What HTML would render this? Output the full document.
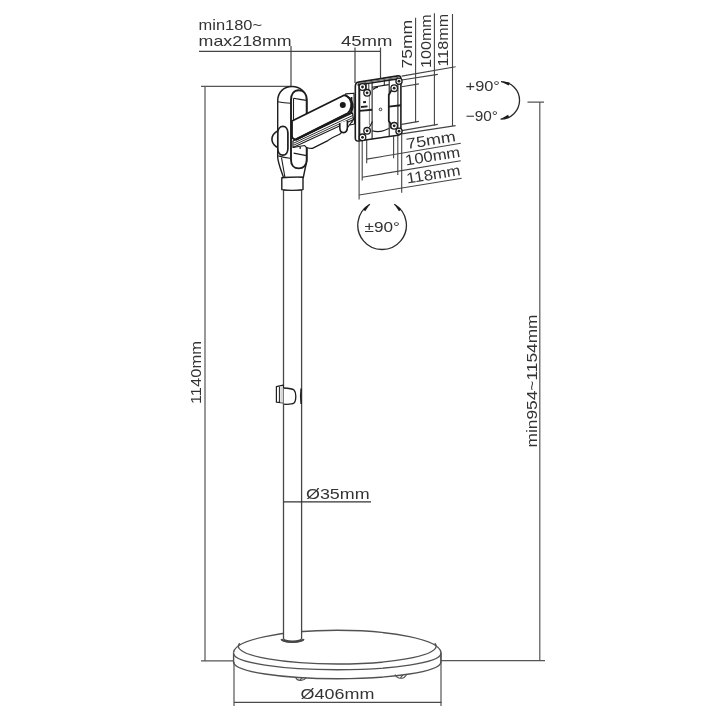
<!DOCTYPE html>
<html><head><meta charset="utf-8">
<style>
html,body{margin:0;padding:0;background:#fff;}
svg{display:block;will-change:transform;}
text{font-family:"Liberation Sans",sans-serif;fill:#333;}
</style></head>
<body>
<svg width="720" height="720" viewBox="0 0 720 720">
<!-- dimension lines -->
<g stroke="#555" stroke-width="1.2" fill="none">
  <path d="M205 86.3V660.8M201 86.3H291.4M201 660.8H233.5"/>
  <path d="M539.8 102.1V660.7M527.5 102.1H544M441 660.7H545"/>
  <path d="M234 662V706M441 652V706"/><path d="M234 702.4H441.5" stroke="#4a4a4a"/>
</g>
<g stroke="#444" stroke-width="1.2" fill="none">
  <path d="M199 51.3H380.5M291 46V86M355 47.5V83M380.5 47.5V78"/>
</g>
<!-- pole -->

<!-- base -->
<g stroke="#525252" stroke-width="1.4" fill="none">
  <path d="M233.6 652.2 A103.7 22.6 0 0 1 440.9 652.2"/>
  <path d="M239.8 643.2 Q238.3 644.8 238.3 646.5 A99 18.1 0 0 0 436.2 646.5 Q436.2 644.8 434.7 643.2"/>
  <path d="M233.6 653.9 A103.7 16.4 0 0 0 440.9 653.9"/>
  <path d="M233.6 662.6 A103.7 16.6 0 0 0 440.9 662.6"/>
  <path d="M233.6 652.2V663M440.9 652.2V663"/>
  <path d="M281.3 639.2 Q283 641.6 292.5 641.8 Q302 641.6 303.8 639.2" stroke-width="1.8"/>
  <path d="M295.5 677.2 Q297 680.6 300.5 680.4 Q304 680.6 306.2 677.6 M300.2 680 Q301.5 677.8 302.5 677.6" stroke-width="1.1"/>
  <path d="M395 674.6 Q397 678.4 400.5 678.3 Q404.5 678.4 406.7 674.4 M400.5 678 Q401.5 675.8 403 675.2" stroke-width="1.1"/>
</g>
<g stroke="#474747" stroke-width="1.3">
  <path d="M283.5 190V638.5 Q284 641 292.5 641.2 Q301 641 301.6 638.5 V190Z" fill="#fff"/>
  <path d="M281.3 639.2 Q283 641.8 292.5 642 Q302 641.8 303.8 639.2" fill="none" stroke-width="1.8"/>
</g>
<path d="M283.6 501.9H371" stroke="#333" stroke-width="1.2"/>
<!-- clip -->
<g stroke="#1e1e1e" stroke-width="1.2" fill="#fff" stroke-linejoin="round">
  <path d="M276.4 386.6 L283.3 385.2 V402.8 L276.4 402.2Z"/>
  <path d="M279.4 386.5 V402.4" fill="none" stroke-width="1"/>
  <path d="M280.3 386.3 H283 V402.6 H280.3Z" fill="#d8d8d8" stroke="none"/>
  <path d="M283.6 388 Q292 388.4 294 390 Q295.8 392 295.8 396 Q295.8 401.5 294 403 Q292 404.6 283.6 404.2" stroke-width="1.3"/>
  <path d="M301.2 388.5 Q300.2 396 301.2 404" fill="none" stroke-width="1.6"/>
</g>
<!-- VESA dims top (vertical) -->
<g stroke="#444" stroke-width="1.1" fill="none">
  <path d="M415.6 17.8V122.2M434.4 13.3V125.6M452.5 13.9V126.1"/>
  <path d="M401.7 76.1L455.6 66.7M401.7 80L437.8 74.4M401.7 86.7L418.9 83.9"/>
  <path d="M401.7 124.4L418.9 121.4M401.7 130.6L437.8 124.4M401.7 133.9L455.6 125.6"/>
  <path d="M359.1 140V199.4M362.2 141V180.6M366.7 140V163.3M393.6 130V158.3M397.8 130V175M401.7 130V192.8"/>
  <path d="M366.7 159.1L460.8 143.3M362.2 177.2L460.8 160.8M359.1 195L461.7 178.3"/>
</g>
<text transform="translate(412.2 68.4) rotate(-90)" font-size="15" textLength="48.6" lengthAdjust="spacingAndGlyphs">75mm</text>
<text transform="translate(431.3 68) rotate(-90)" font-size="15" textLength="53.8" lengthAdjust="spacingAndGlyphs">100mm</text>
<text transform="translate(448.2 66.5) rotate(-90)" font-size="15" textLength="52.6" lengthAdjust="spacingAndGlyphs">118mm</text>
<text transform="translate(407 149) rotate(-9)" font-size="15" textLength="50" lengthAdjust="spacingAndGlyphs">75mm</text>
<text transform="translate(406 165.4) rotate(-9)" font-size="15" textLength="55.5" lengthAdjust="spacingAndGlyphs">100mm</text>
<text transform="translate(407.3 183.6) rotate(-9)" font-size="15" textLength="54.5" lengthAdjust="spacingAndGlyphs">118mm</text>
<!-- rotation arrows -->
<g stroke="#2a2a2a" stroke-width="1.3" fill="none">
  <path d="M501 81.6 A18.4 18.4 0 0 1 500.6 119.1"/>
  <path d="M369.9 204.2 A24.3 24.3 0 1 0 394.3 204.2"/>
</g>
<g fill="#1a1a1a">
  <path d="M500.6 81.5L509.6 82.6L508.7 85.5Z"/>
  <path d="M500.3 119.2L508.1 114.8L509.2 117.6Z"/>
  <path d="M370.2 203.8L365.2 211.2L362.9 209.2Z"/>
  <path d="M394 203.8L399 211.2L401.3 209.2Z"/>
</g>
<!-- head -->
<g stroke="#1e1e1e" stroke-width="1.4" fill="#fff" stroke-linejoin="round">
  <path d="M277.7 157 V101 C277.7 92 284 86.5 292 86.5 C300 86.5 306.7 92 306.7 101 V161 L303.3 177.5 H283.5 C281 170 278 163 277.7 157Z"/>
  <path d="M281.8 177.8 Q292.5 176.8 303 177.2 V189.6 Q292.5 191.2 281.8 189.6Z"/>
  <path d="M291 160 V100 C291 94 294 90.3 298.8 90.3 C303.5 90.3 306.7 94 306.7 100 V160 C306.7 165 303.5 168.4 298.8 168.4 C294 168.4 291 165 291 160Z" stroke-width="1.9"/>
  <path d="M277.8 101.8 Q284 103 291 103.2M293.5 98.3 Q300 99.5 306.5 100.4M293.5 98.3V121M278.3 155.9 Q284 157.5 290.1 158.3M293.6 153.1 Q300 154.5 306.5 155.6M281.5 157.6 L284.9 177" fill="none" stroke-width="1.1"/>
  <path d="M285 129.2 A13 10 0 0 0 285 149.3Z" stroke-width="1.6"/>
  <path d="M277.8 133 C277.8 129 280 126.4 282.9 126.4 C285.8 126.4 287.9 129 287.9 133 V148.6 C287.9 152.6 285.8 155.2 282.9 155.2 C280 155.2 277.8 152.6 277.8 148.6Z" stroke-width="1.7"/>
</g>
<!-- arm -->
<g stroke="#1a1a1a" stroke-width="1.3" fill="#fff" stroke-linejoin="round">
  <path d="M345.6 93.9 L354 93.3 L354.5 124 L350 125Z" stroke-width="1.1"/>
  <path d="M351.5 97 V123" fill="none" stroke-width="1.8"/>
  <path d="M293 141 L352.5 113 L353.5 119.5 L348.3 126.5 L339.6 134.3 Q333 137 327.9 140.6 L312.4 148.4 Q307 148.8 304.6 145.5 L293 147.5Z" stroke-width="1.2"/>
  <path d="M294 143 L352.5 115.6M294 145 L353 117.6" fill="none" stroke-width="0.9"/>
  <path d="M293 147.5 L353.5 119.5" fill="none" stroke-width="1.1"/>
  <path d="M339.8 123 V127.5 Q339.8 132.6 343.5 132.6 Q347.4 132.6 347.4 127 V120.5" fill="#fff" stroke-width="1.6"/>
  <circle cx="300.2" cy="147.9" r="0.9" fill="#1a1a1a" stroke="none"/>
  <path d="M292 121 L344 95.2 C349 96 352 101 351.1 106.8 Q350.5 111 347.2 113.9 L295.8 139.6 Q292 139 292 136Z" stroke-width="1.8"/>
  <path d="M346.3 95.8 C351 98 353.5 103 352.8 107.5 Q352 112 348.5 114.5" fill="none" stroke-width="1.6"/>
  <path d="M295.8 139.6 L347.2 113.9" stroke-width="2.4" fill="none"/>
  <circle cx="342.8" cy="105" r="3" fill="#1a1a1a" stroke="none"/>
</g>
<!-- plate -->
<g stroke="#1e1e1e" stroke-width="1.3" fill="#fff" stroke-linejoin="round">
  <path d="M355.3 86.5 Q355.3 82.6 358.5 82.1 L398 75.9 Q400.9 75.5 400.9 78.5 V132.5 Q400.9 134.8 398 135.2 L358.5 141 Q355.3 141.5 355.3 138Z" stroke-width="1.6"/>
  <path d="M359.3 84.5 V140.3" fill="none" stroke-width="2"/>
  <path d="M357.5 85 L399.5 78.6" fill="none" stroke-width="1.6"/><path d="M358 83.6 L398 77.4" fill="none" stroke="#666" stroke-width="1"/>
  <path d="M372.1 83 V139M397.9 78.5V134.8M389.2 79V95M389.2 121V136.5" fill="none" stroke-width="1.1"/>
  <path d="M369.4 95 V125" fill="none" stroke="#777" stroke-width="0.9"/>
  <path d="M391.2 90.5 L388.8 95 V121 L391.2 124.5" fill="none" stroke-width="1.8"/>
  <path d="M372.1 87.2 L388.8 84.6 M372.1 130.8 Q380 133.2 388.8 128.6" fill="none" stroke-width="1.1"/><path d="M373 89.5 Q375 87.6 378 87" fill="none" stroke-width="1.3"/><path d="M384.3 80.2V85.2" fill="none" stroke-width="1"/>
  <path d="M363.1 102.3 L366 102M361 107 L367.5 106.4M359.3 110.9 L372.1 109.8M388.8 106.6 L400.9 105.3" fill="none" stroke-width="1.9"/>
  <path d="M366.3 84 V89M368.8 83.6 V89.5" fill="none" stroke-width="0.9"/>
  <path d="M369.5 127 L372.5 121.5M391 123 Q390 127 391.5 129" fill="none" stroke-width="1.2"/>
  <g stroke-width="1.3">
    <circle cx="362.5" cy="87" r="3.3"/><circle cx="367.1" cy="92.8" r="3.3"/>
    <circle cx="394.2" cy="88.2" r="3.3"/><circle cx="399" cy="81.2" r="3.1"/>
    <circle cx="362.5" cy="137.3" r="3.3"/><circle cx="367.1" cy="130.8" r="3.3"/>
    <circle cx="394.2" cy="125.8" r="3.3"/><circle cx="399" cy="131.2" r="3.1"/>
  </g>
  <g fill="#1e1e1e" stroke="none">
    <circle cx="362.5" cy="87" r="1.4"/><circle cx="367.1" cy="92.8" r="1.4"/>
    <circle cx="394.2" cy="88.2" r="1.4"/><circle cx="399" cy="81.2" r="1.4"/>
    <circle cx="362.5" cy="137.3" r="1.4"/><circle cx="367.1" cy="130.8" r="1.4"/>
    <circle cx="394.2" cy="125.8" r="1.4"/><circle cx="399" cy="131.2" r="1.4"/>
  </g>
  <circle cx="380.5" cy="109.4" r="1.3" fill="none" stroke-width="0.9"/>
</g>

<!-- text -->
<text x="198.6" y="29.7" font-size="15" textLength="63.5" lengthAdjust="spacingAndGlyphs">min180~</text>
<text x="198.6" y="45.8" font-size="15" textLength="93" lengthAdjust="spacingAndGlyphs">max218mm</text>
<text x="341" y="45.8" font-size="15" textLength="51.5" lengthAdjust="spacingAndGlyphs">45mm</text>
<text x="465.6" y="91.2" font-size="15" textLength="34.3" lengthAdjust="spacingAndGlyphs">+90°</text>
<text x="465.8" y="120.9" font-size="15" textLength="32.2" lengthAdjust="spacingAndGlyphs">−90°</text>
<text x="364.6" y="232" font-size="15" textLength="35.4" lengthAdjust="spacingAndGlyphs">±90°</text>
<text x="300.6" y="699.3" font-size="15" textLength="73.8" lengthAdjust="spacingAndGlyphs">Ø406mm</text>
<text x="306" y="498.9" font-size="15" textLength="63.6" lengthAdjust="spacingAndGlyphs">Ø35mm</text>
<text transform="translate(201.3 404.1) rotate(-90)" font-size="15" textLength="63" lengthAdjust="spacingAndGlyphs">1140mm</text>
<text transform="translate(537.2 447.5) rotate(-90)" font-size="15" textLength="133" lengthAdjust="spacingAndGlyphs">min954~1154mm</text>
</svg>
</body></html>
